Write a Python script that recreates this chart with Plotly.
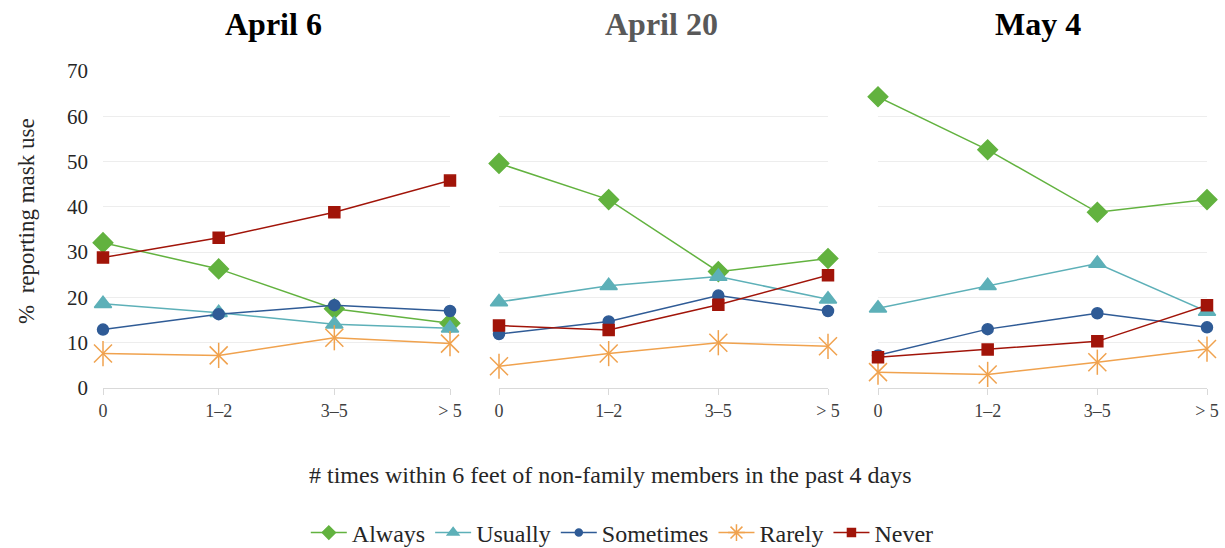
import plotly.graph_objects as go

categories = ["0", "1–2", "3–5", "> 5"]
panels = ["April 6", "April 20", "May 4"]
series = ["Always", "Usually", "Sometimes", "Rarely", "Never"]

always = [[32.1, 26.3, 17.5, 14.3], [49.6, 41.6, 25.7, 28.6], [64.3, 52.6, 38.8, 41.6]]
usually = [[18.6, 16.6, 14.1, 13.2], [19.0, 22.6, 24.6, 19.6], [17.6, 22.6, 27.5, 16.9]]
sometimes = [[12.9, 16.3, 18.3, 17.0], [11.9, 14.7, 20.4, 17.0], [7.2, 13.0, 16.5, 13.4]]
rarely = [[7.6, 7.2, 11.1, 9.8], [4.8, 7.6, 10.0, 9.2], [3.5, 3.0, 5.7, 8.6]]
never = [[28.8, 33.2, 38.8, 45.8], [13.8, 12.8, 18.4, 24.9], [6.8, 8.5, 10.3, 18.3]]

values = {"Always": always, "Usually": usually, "Sometimes": sometimes,
          "Rarely": rarely, "Never": never}

colors = {"Always": "#62B23F", "Usually": "#5DB0B8", "Sometimes": "#2F5B96",
          "Rarely": "#F0A24E", "Never": "#A11409"}
symbols = {"Always": "diamond", "Usually": "triangle-up", "Sometimes": "circle",
           "Rarely": "x-thin-open", "Never": "square"}
legend_symbols = {"Always": "diamond", "Usually": "triangle-up", "Sometimes": "circle",
                  "Rarely": "asterisk-open", "Never": "square"}
sizes = {"Always": 15, "Usually": 15, "Sometimes": 11, "Rarely": 18, "Never": 11}
legend_sizes = {"Always": 10, "Usually": 10, "Sometimes": 7, "Rarely": 14, "Never": 8}

W, H = 1225, 548
T, B = 71, 160
domains = [(103 / W, 450 / W), (499 / W, 828 / W), (878 / W, 1207 / W)]
title_centers = [273, 661, 1038]
title_colors = ["#000000", "#595959", "#000000"]

FONT = "Liberation Serif, Times New Roman, serif"
xs = list(range(len(categories)))

fig = go.Figure()
for p in range(3):
    xa = "x" if p == 0 else f"x{p + 1}"
    ya = "y" if p == 0 else f"y{p + 1}"
    for s in series:
        fig.add_trace(go.Scatter(
            x=xs, y=values[s][p], name=s, xaxis=xa, yaxis=ya,
            mode="lines+markers", legendgroup=s, showlegend=False,
            line=dict(color=colors[s], width=1.5),
            marker=dict(symbol=symbols[s], size=sizes[s], color=colors[s],
                        line=dict(color=colors[s], width=1.5)),
            cliponaxis=False, hoverinfo="skip"))
        if s == "Rarely":
            fig.add_trace(go.Scatter(
                x=xs, y=values[s][p], xaxis=xa, yaxis=ya, mode="markers",
                legendgroup=s, showlegend=False,
                marker=dict(symbol="line-ns-open", size=18, color=colors[s],
                            line=dict(color=colors[s], width=1.5)),
                cliponaxis=False, hoverinfo="skip"))

# legend-only entries (smaller symbols, like the reference legend)
for s in series:
    fig.add_trace(go.Scatter(
        x=[None], y=[None], name=s, mode="lines+markers", legendgroup=s,
        showlegend=True,
        line=dict(color=colors[s], width=1.5),
        marker=dict(symbol=legend_symbols[s], size=legend_sizes[s], color=colors[s],
                    line=dict(color=colors[s], width=1.5))))

layout = dict(
    width=W, height=H,
    margin=dict(l=0, r=0, t=T, b=B, autoexpand=False),
    paper_bgcolor="white", plot_bgcolor="white",
    font=dict(family=FONT, size=18, color="#404040"),
    showlegend=True,
    legend=dict(orientation="h", xref="container", yref="container",
                x=0.508, xanchor="center", y=(H - 533) / H, yanchor="middle",
                font=dict(family=FONT, size=24, color="#262626"),
                itemsizing="trace", itemwidth=36, tracegroupgap=0),
)
for p in range(3):
    sfx = "" if p == 0 else str(p + 1)
    layout[f"xaxis{sfx}"] = dict(
        domain=list(domains[p]), anchor=f"y{sfx}", range=[0, 3], automargin=False,
        tickmode="array", tickvals=xs, ticktext=categories,
        showgrid=False, zeroline=False, showline=True, linecolor="#D9D9D9", linewidth=1,
        ticks="outside", ticklen=6, tickcolor="#D9D9D9", ticklabelstandoff=0,
        tickfont=dict(family=FONT, size=18, color="#404040"),
    )
    layout[f"yaxis{sfx}"] = dict(
        domain=[0, 1], anchor=f"x{sfx}", range=[0, 70], dtick=10, automargin=False,
        showgrid=True, gridcolor="#EDEDED", gridwidth=1, zeroline=False,
        showticklabels=(p == 0), ticks="", ticklabelstandoff=14,
        tickfont=dict(family=FONT, size=21, color="#262626"),
    )
fig.update_layout(**layout)

plot_h = H - T - B


def py(pix):
    return (H - B - pix) / plot_h


annotations = []
for p in range(3):
    annotations.append(dict(
        text=f"<b>{panels[p]}</b>", x=title_centers[p] / W, xref="paper", xanchor="center",
        y=py(24), yref="paper", yanchor="middle", showarrow=False,
        font=dict(family=FONT, size=32, color=title_colors[p])))
annotations.append(dict(
    text="%  reporting mask use", textangle=-90, x=27 / W, xref="paper", xanchor="center",
    y=py(221), yref="paper", showarrow=False, yanchor="middle",
    font=dict(family=FONT, size=23, color="#262626")))
annotations.append(dict(
    text="# times within 6 feet of non-family members in the past 4 days",
    x=610 / W, xref="paper", xanchor="center", y=py(475), yref="paper",
    showarrow=False, yanchor="middle",
    font=dict(family=FONT, size=24, color="#262626")))
fig.update_layout(annotations=annotations)

fig.write_html("out.html", config={"displayModeBar": False})

# remove the browser's default page margin so the figure fills the window
with open("out.html", "r", encoding="utf-8") as f:
    html = f.read()
html = html.replace("<head>", "<head><style>html,body{margin:0;padding:0;overflow:hidden;}</style>", 1)
with open("out.html", "w", encoding="utf-8") as f:
    f.write(html)
